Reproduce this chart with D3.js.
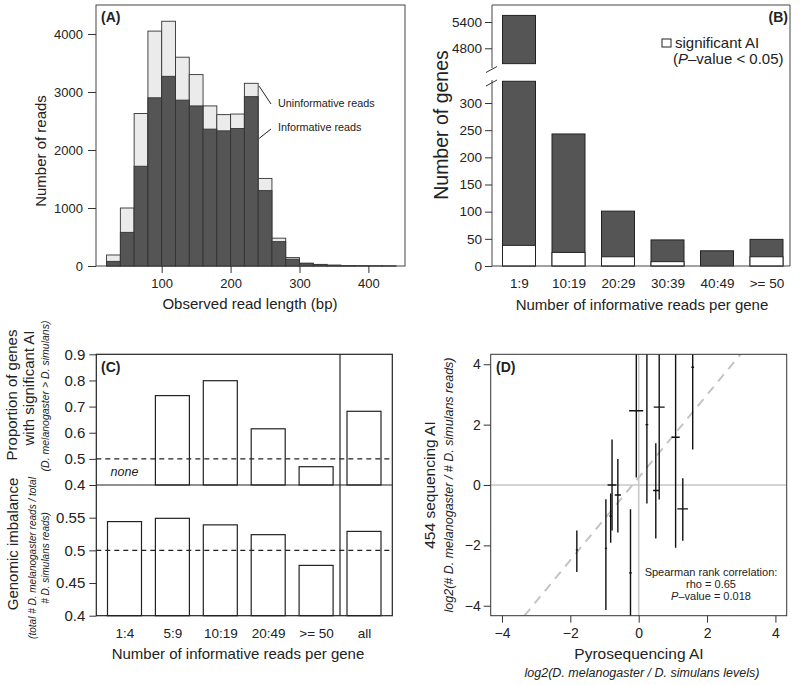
<!DOCTYPE html>
<html>
<head>
<meta charset="utf-8">
<script src="https://cdn.jsdelivr.net/npm/d3@7"></script>
<style>
  body { margin: 0; background: #fff; }
  svg { font-family: "Liberation Sans", Arial, Helvetica, sans-serif; }
</style>
</head>
<body>
<div id="chart"></div>
<script>
// ---- panel A : read length histogram ----
var binStart = [20,40,60,80,100,120,140,160,180,200,220,240,260,280,300,320,340,360,380,400,420];
var binWidth = 20;
var readsTotal = [190,1000,2630,4050,4220,3600,3300,2760,2610,2620,3150,1510,480,145,50,28,15,8,4,2,1];
var readsInformative = [80,580,1720,2900,3270,2860,2760,2360,2330,2370,2920,1300,420,118,40,22,12,6,3,2,1];
var aTicksX = [100,200,300,400];
var aTicksY = [0,1000,2000,3000,4000];

// ---- panel B : genes per read class ----
var bCats = ["1:9","10:19","20:29","30:39","40:49",">= 50"];
var bGenes = [5550,243,101,48,28,49];
var bSignificant = [38,25,17,8,0,17];
var bTicksLow = [0,50,100,150,200,250,300];
var bTicksHigh = [4800,5400];
var bBreakLow = 340, bBreakHigh = 4450;

// ---- panel C : proportions ----
var cCats = ["1:4","5:9","10:19","20:49",">= 50","all"];
var cPropSig = [null,0.742,0.799,0.615,0.47,0.682];
var cGenomic = [0.544,0.549,0.539,0.524,0.477,0.529];
var cTicksTop = [0.4,0.5,0.6,0.7,0.8,0.9];
var cTicksBot = [0.4,0.45,0.5,0.55];

// ---- panel D : pyrosequencing vs 454 ----
var dPyro   = [-1.81,-0.96,-0.82,-0.78,-0.61,-0.24,-0.07,0.24,0.50,0.60,1.08,1.29,1.58];
var dPyroLo = [-1.84,-0.99,-0.86,-0.91,-0.70,-0.28,-0.28,0.20,0.42,0.44,0.96,1.13,1.54];
var dPyroHi = [-1.78,-0.93,-0.78,-0.65,-0.52,-0.20,0.13,0.28,0.60,0.76,1.20,1.44,1.62];
var d454    = [-2.15,-2.10,-1.03,0.00,-0.33,-2.91,2.46,2.00,-0.18,2.58,1.58,-0.79,3.90];
var d454Lo  = [-2.88,-4.14,-1.91,-1.51,-1.57,-4.60,0.25,-0.61,-1.77,-0.48,-2.08,-1.85,1.18];
var d454Hi  = [-1.51,-0.47,-0.28,1.51,0.86,-0.80,4.60,4.60,1.38,4.60,4.60,0.22,4.60];
var dFitIntercept = 0.25, dFitSlope = 1.37;
var dTicks = [-4,-2,0,2,4];

var DARK = "#555555", LIGHT = "#ebebeb", INK = "#222";

var svg = d3.select("#chart").append("svg")
  .attr("width", 800)
  .attr("height", 685);

function styleAxis(g, size) {
  g.attr("font-family", null).attr("font-size", null);
  g.select(".domain").remove();
  g.selectAll(".tick line").attr("stroke", "#333");
  g.selectAll(".tick text").attr("fill", INK).style("font-size", size + "px");
}

function vText(x, y, txt, size, italic) {
  return svg.append("text")
    .attr("transform", "translate(" + x + "," + y + ") rotate(-90)")
    .attr("text-anchor", "middle")
    .style("font-size", size + "px")
    .style("font-style", italic ? "italic" : null)
    .attr("fill", INK)
    .text(txt);
}

function hText(x, y, txt, size, anchor, italic) {
  return svg.append("text")
    .attr("x", x).attr("y", y)
    .attr("text-anchor", anchor || "middle")
    .style("font-size", size + "px")
    .style("font-style", italic ? "italic" : null)
    .attr("fill", INK)
    .text(txt);
}

var intFmt = d3.format("d");

// =============== A ===============
var ax = d3.scaleLinear().domain([0, 400]).range([92.8, 368.4]);
var ay = d3.scaleLinear().domain([0, 4500]).range([266, 5]);
var gA = svg.append("g");

gA.selectAll("rect.tot").data(binStart).join("rect")
  .attr("class", "tot")
  .attr("x", d => ax(d)).attr("width", d => ax(d + binWidth) - ax(d))
  .attr("y", (d, i) => ay(readsTotal[i]))
  .attr("height", (d, i) => ay(0) - ay(readsTotal[i]))
  .attr("fill", LIGHT).attr("stroke", "#333").attr("stroke-width", 0.9);

gA.selectAll("rect.inf").data(binStart).join("rect")
  .attr("class", "inf")
  .attr("x", d => ax(d)).attr("width", d => ax(d + binWidth) - ax(d))
  .attr("y", (d, i) => ay(readsInformative[i]))
  .attr("height", (d, i) => ay(0) - ay(readsInformative[i]))
  .attr("fill", DARK).attr("stroke", "#333").attr("stroke-width", 0.9);

gA.append("rect").attr("x", 96).attr("y", 5).attr("width", 309).attr("height", 261)
  .attr("fill", "none").attr("stroke", "#444");

svg.append("g").attr("transform", "translate(0,266)")
  .call(d3.axisBottom(ax).tickValues(aTicksX).tickSize(7).tickPadding(6).tickFormat(intFmt))
  .call(g => styleAxis(g, 13));
svg.append("g").attr("transform", "translate(96,0)")
  .call(d3.axisLeft(ay).tickValues(aTicksY).tickSize(8).tickPadding(5).tickFormat(intFmt))
  .call(g => styleAxis(g, 13));

// labels for the two parts
gA.append("line").attr("x1", ax(240) + 1).attr("y1", ay(3100)).attr("x2", 271).attr("y2", 104)
  .attr("stroke", "#222");
gA.append("line").attr("x1", ax(240) + 1).attr("y1", ay(2200)).attr("x2", 271).attr("y2", 129)
  .attr("stroke", "#222");
hText(278, 107, "Uninformative reads", 10.8, "start");
hText(278, 131, "Informative reads", 10.8, "start");

svg.append("text").attr("x", 101).attr("y", 22).style("font-size", "14px")
  .style("font-weight", "bold").attr("fill", INK).text("(A)");
vText(46, 151, "Number of reads", 15);
hText(250, 309, "Observed read length (bp)", 15);

// =============== B ===============
var bx = d3.scalePoint().domain(bCats).range([519, 766.5]);
var bw = 33;
var byLo = d3.scaleLinear().domain([0, 300]).range([266, 103]);
var byHi = d3.scaleLinear().domain([4800, 5400]).range([48.3, 22]);
var gB = svg.append("g");

// lower segment (clipped at the break)
gB.selectAll("rect.low").data(bCats).join("rect")
  .attr("class", "low")
  .attr("x", d => bx(d) - bw / 2).attr("width", bw)
  .attr("y", (d, i) => byLo(Math.min(bGenes[i], bBreakLow)))
  .attr("height", (d, i) => byLo(0) - byLo(Math.min(bGenes[i], bBreakLow)))
  .attr("fill", DARK).attr("stroke", INK);
// upper segment for bars above the break
gB.selectAll("rect.high").data(bCats.filter((d, i) => bGenes[i] > bBreakLow)).join("rect")
  .attr("class", "high")
  .attr("x", d => bx(d) - bw / 2).attr("width", bw)
  .attr("y", d => byHi(bGenes[bCats.indexOf(d)]))
  .attr("height", d => byHi(bBreakHigh) - byHi(bGenes[bCats.indexOf(d)]))
  .attr("fill", DARK).attr("stroke", INK);
// significant part
gB.selectAll("rect.sig").data(bCats).join("rect")
  .attr("class", "sig")
  .attr("x", d => bx(d) - bw / 2).attr("width", bw)
  .attr("y", (d, i) => byLo(bSignificant[i]))
  .attr("height", (d, i) => byLo(0) - byLo(bSignificant[i]))
  .attr("fill", "#fff").attr("stroke", INK);

// frame with axis break
gB.append("path")
  .attr("d", "M492,68V5H790V266H492V80")
  .attr("fill", "none").attr("stroke", "#444");
gB.append("line").attr("x1", 486).attr("y1", 72.5).attr("x2", 497).attr("y2", 66.5).attr("stroke", "#333");
gB.append("line").attr("x1", 486).attr("y1", 86).attr("x2", 497).attr("y2", 80).attr("stroke", "#333");

svg.append("g").attr("transform", "translate(492,0)")
  .call(d3.axisLeft(byLo).tickValues(bTicksLow).tickSize(7).tickPadding(3).tickFormat(intFmt))
  .call(g => styleAxis(g, 13.5));
svg.append("g").attr("transform", "translate(492,0)")
  .call(d3.axisLeft(byHi).tickValues(bTicksHigh).tickSize(7).tickPadding(3).tickFormat(intFmt))
  .call(g => styleAxis(g, 13.5));
svg.append("g").attr("transform", "translate(0,266)")
  .call(d3.axisBottom(bx).tickSize(0).tickPadding(12))
  .call(g => styleAxis(g, 13.5));

svg.append("text").attr("x", 788).attr("y", 22).attr("text-anchor", "end")
  .style("font-size", "14px").style("font-weight", "bold").attr("fill", INK).text("(B)");
gB.append("rect").attr("x", 662).attr("y", 39).attr("width", 9).attr("height", 8)
  .attr("fill", "#fff").attr("stroke", INK);
hText(675, 48, "significant AI", 15, "start");
var pv = hText(673, 64, "(", 15, "start");
pv.append("tspan").style("font-style", "italic").text("P");
pv.append("tspan").text("\u2013value < 0.05)");

vText(448, 125, "Number of genes", 19.5);
hText(642, 310, "Number of informative reads per gene", 15);

// =============== C ===============
var cx = d3.scalePoint().domain(cCats).range([124.5, 364]);
var cw = 34;
var cyTop = d3.scaleLinear().domain([0.4, 0.9]).range([485, 354.3]);
var cyBot = d3.scaleLinear().domain([0.4, 0.6]).range([615.7, 485]);
var gC = svg.append("g");

gC.selectAll("rect.top").data(cCats.filter((d, i) => cPropSig[i] != null)).join("rect")
  .attr("class", "top")
  .attr("x", d => cx(d) - cw / 2).attr("width", cw)
  .attr("y", d => cyTop(cPropSig[cCats.indexOf(d)]))
  .attr("height", d => cyTop(0.4) - cyTop(cPropSig[cCats.indexOf(d)]))
  .attr("fill", "#fff").attr("stroke", INK).attr("stroke-width", 1.2);
gC.selectAll("rect.bot").data(cCats).join("rect")
  .attr("class", "bot")
  .attr("x", d => cx(d) - cw / 2).attr("width", cw)
  .attr("y", (d, i) => cyBot(cGenomic[i]))
  .attr("height", (d, i) => cyBot(0.4) - cyBot(cGenomic[i]))
  .attr("fill", "#fff").attr("stroke", INK).attr("stroke-width", 1.2);

[cyTop(0.5), cyBot(0.5)].forEach(function (y) {
  gC.append("line").attr("x1", 96.3).attr("x2", 392.3).attr("y1", y).attr("y2", y)
    .attr("stroke", INK).attr("stroke-width", 1.1).attr("stroke-dasharray", "5,4");
});
gC.append("rect").attr("x", 96.3).attr("y", 354.3).attr("width", 296).attr("height", 261.4)
  .attr("fill", "none").attr("stroke", INK).attr("stroke-width", 1.2);
gC.append("line").attr("x1", 96.3).attr("x2", 392.3).attr("y1", 485).attr("y2", 485)
  .attr("stroke", INK).attr("stroke-width", 1.2);
gC.append("line").attr("x1", 340).attr("x2", 340).attr("y1", 354.3).attr("y2", 615.7)
  .attr("stroke", INK).attr("stroke-width", 1.2);

svg.append("g").attr("transform", "translate(96.3,0)")
  .call(d3.axisLeft(cyTop).tickValues(cTicksTop).tickSize(7).tickPadding(4).tickFormat(d3.format(".1f")))
  .call(g => styleAxis(g, 15));
svg.append("g").attr("transform", "translate(96.3,0)")
  .call(d3.axisLeft(cyBot).tickValues(cTicksBot.slice(1)).tickSize(7).tickPadding(4).tickFormat(d3.format("~g")))
  .call(g => styleAxis(g, 15));
svg.append("g").attr("transform", "translate(96.3,0)")
  .call(d3.axisLeft(cyBot).tickValues([0.4]).tickSize(7).tickPadding(4).tickFormat(d3.format(".1f")))
  .call(g => styleAxis(g, 15));
svg.append("g").attr("transform", "translate(0,615.7)")
  .call(d3.axisBottom(cx).tickSize(0).tickPadding(13))
  .call(g => styleAxis(g, 13.5));

svg.append("text").attr("x", 101).attr("y", 372).style("font-size", "14px")
  .style("font-weight", "bold").attr("fill", INK).text("(C)");
hText(cx("1:4"), 476, "none", 12.5, "middle", true);

vText(17, 395, "Proportion of genes", 15);
vText(34, 388, "with significant AI", 15);
vText(49, 396, "(D. melanogaster > D. simulans)", 10.5, true);
vText(18, 544, "Genomic imbalance", 15);
vText(36, 558, "(total # D. melanogaster reads / total", 10, true);
vText(49, 558, "# D. simulans reads)", 10, true);
hText(238, 659, "Number of informative reads per gene", 15);

// =============== D ===============
var dx = d3.scaleLinear().domain([-4.33, 4.33]).range([490.7, 786.7]);
var dy = d3.scaleLinear().domain([-4.33, 4.33]).range([615.7, 354.3]);
svg.append("clipPath").attr("id", "clipD").append("rect")
  .attr("x", 490.7).attr("y", 354.3).attr("width", 296).attr("height", 261.4);
var gD = svg.append("g").attr("clip-path", "url(#clipD)");

gD.append("line").attr("x1", dx(-4.33)).attr("x2", dx(4.33)).attr("y1", dy(0)).attr("y2", dy(0))
  .attr("stroke", "#aaa").attr("stroke-width", 1);
gD.append("line").attr("x1", dx(0)).attr("x2", dx(0)).attr("y1", dy(-4.33)).attr("y2", dy(4.33))
  .attr("stroke", "#c8c8c8").attr("stroke-width", 1.6);
var fx0 = (-4.33 - dFitIntercept) / dFitSlope, fx1 = (4.33 - dFitIntercept) / dFitSlope;
gD.append("line")
  .attr("x1", dx(fx0)).attr("y1", dy(dFitIntercept + dFitSlope * fx0))
  .attr("x2", dx(fx1)).attr("y2", dy(dFitIntercept + dFitSlope * fx1))
  .attr("stroke", "#c4c4c4").attr("stroke-width", 2).attr("stroke-dasharray", "9,7");

gD.selectAll("line.ev").data(dPyro).join("line")
  .attr("class", "ev")
  .attr("x1", d => dx(d)).attr("x2", d => dx(d))
  .attr("y1", (d, i) => dy(d454Lo[i])).attr("y2", (d, i) => dy(d454Hi[i]))
  .attr("stroke", "#111").attr("stroke-width", 1.4);
gD.selectAll("line.eh").data(dPyro).join("line")
  .attr("class", "eh")
  .attr("x1", (d, i) => dx(dPyroLo[i])).attr("x2", (d, i) => dx(dPyroHi[i]))
  .attr("y1", (d, i) => dy(d454[i])).attr("y2", (d, i) => dy(d454[i]))
  .attr("stroke", "#111").attr("stroke-width", 1.4);

svg.append("rect").attr("x", 490.7).attr("y", 354.3).attr("width", 296).attr("height", 261.4)
  .attr("fill", "none").attr("stroke", "#333");
svg.append("g").attr("transform", "translate(0,615.7)")
  .call(d3.axisBottom(dx).tickValues(dTicks).tickSize(7).tickPadding(5))
  .call(g => styleAxis(g, 14));
svg.append("g").attr("transform", "translate(490.7,0)")
  .call(d3.axisLeft(dy).tickValues(dTicks).tickSize(7).tickPadding(3))
  .call(g => styleAxis(g, 14));

svg.append("text").attr("x", 496).attr("y", 372).style("font-size", "14px")
  .style("font-weight", "bold").attr("fill", INK).text("(D)");
hText(711, 576, "Spearman rank correlation:", 11);
hText(711, 588, "rho = 0.65", 11);
var pv2 = hText(711, 600, "", 11);
pv2.append("tspan").style("font-style", "italic").text("P");
pv2.append("tspan").text("\u2013value = 0.018");

vText(435, 485, "454 sequencing AI", 15.5);
vText(453, 485, "log2(# D. melanogaster / # D. simulans reads)", 12.5, true);
hText(639, 659, "Pyrosequencing AI", 15.5);
hText(642, 677, "log2(D. melanogaster / D. simulans levels)", 12.5, "middle", true);
</script>
</body>
</html>
